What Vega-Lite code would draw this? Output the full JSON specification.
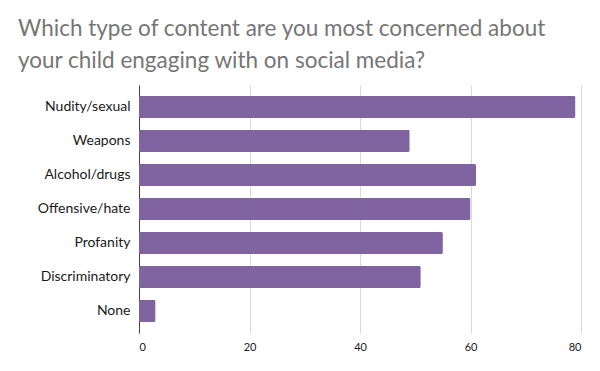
{
  "$schema": "https://vega.github.io/schema/vega-lite/v6.json",
  "width": 442,
  "height": 248,
  "autosize": "none",
  "padding": {"left": 139, "top": 85, "right": 19, "bottom": 38},
  "background": "white",
  "title": {
    "text": ["Which type of content are you most concerned about", "your child engaging with on social media?"],
    "anchor": "start",
    "frame": "group",
    "dx": -121,
    "offset": 13,
    "font": "Lato",
    "fontSize": 22.5,
    "fontWeight": "normal",
    "color": "#767676",
    "lineHeight": 32
  },
  "data": {
    "values": [
      {"category": "Nudity/sexual", "value": 79},
      {"category": "Weapons", "value": 49},
      {"category": "Alcohol/drugs", "value": 61},
      {"category": "Offensive/hate", "value": 60},
      {"category": "Profanity", "value": 55},
      {"category": "Discriminatory", "value": 51},
      {"category": "None", "value": 3}
    ]
  },
  "mark": {"type": "bar", "color": "#8064A2", "cornerRadius": 1.5},
  "encoding": {
    "y": {
      "field": "category",
      "type": "nominal",
      "sort": null,
      "scale": {"paddingInner": 0.353, "paddingOuter": 0.324},
      "axis": {
        "title": null,
        "ticks": false,
        "grid": false,
        "domain": true,
        "domainColor": "#404040",
        "domainWidth": 1,
        "labelPadding": 9,
        "labelFont": "Lato",
        "labelFontSize": 14,
        "labelColor": "#1a1a1a"
      }
    },
    "x": {
      "field": "value",
      "type": "quantitative",
      "scale": {"domain": [0, 80], "nice": false},
      "axis": {
        "title": null,
        "values": [0, 20, 40, 60, 80],
        "ticks": false,
        "domain": false,
        "grid": true,
        "gridColor": "#d9d9d9",
        "gridWidth": 1,
        "labelPadding": 8,
        "labelFont": "Lato",
        "labelFontSize": 11,
        "labelColor": "#1a1a1a"
      }
    }
  },
  "config": {"view": {"stroke": null}}
}
